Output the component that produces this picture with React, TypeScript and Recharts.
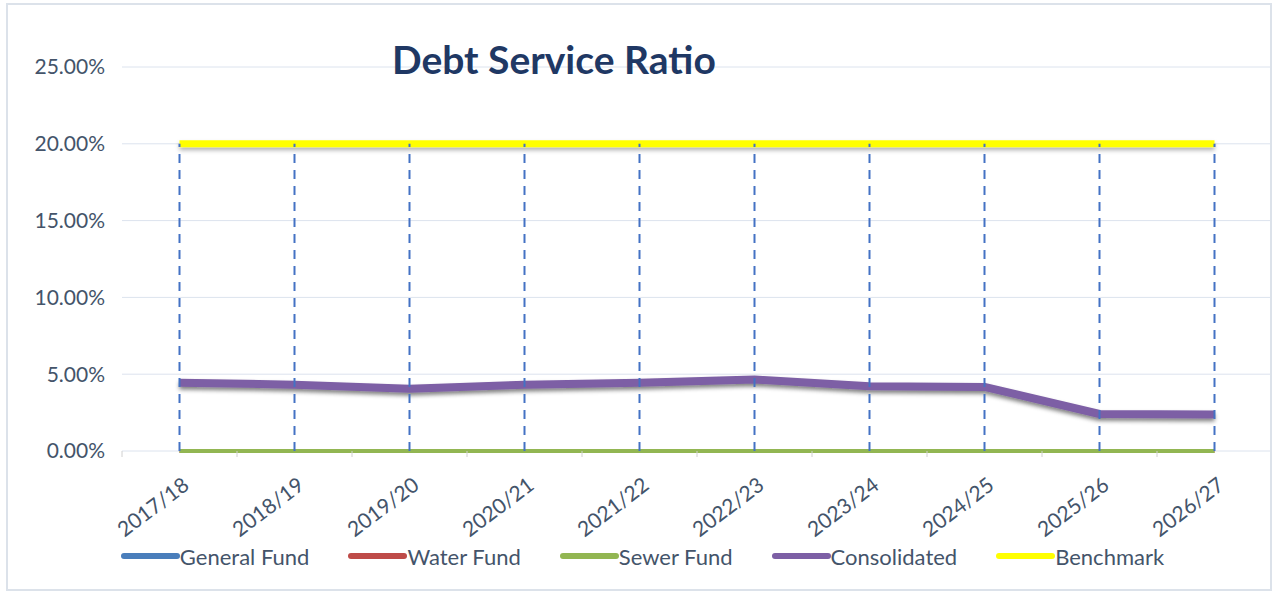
import React from 'react';
import { LineChart, Line, XAxis, YAxis, CartesianGrid, ReferenceLine, Legend } from 'recharts';

const categories = ['2017/18', '2018/19', '2019/20', '2020/21', '2021/22', '2022/23', '2023/24', '2024/25', '2025/26', '2026/27'];
const generalFund = [4.45, 4.32, 4.06, 4.32, 4.45, 4.65, 4.21, 4.17, 2.41, 2.37];
const waterFund = [0, 0, 0, 0, 0, 0, 0, 0, 0, 0];
const sewerFund = [0, 0, 0, 0, 0, 0, 0, 0, 0, 0];
const consolidated = [4.45, 4.32, 4.06, 4.32, 4.45, 4.65, 4.21, 4.17, 2.41, 2.37];
const benchmark = [20, 20, 20, 20, 20, 20, 20, 20, 20, 20];
const yTicks = [0, 5, 10, 15, 20, 25];

const seriesInfo = [
  { key: 'general', name: 'General Fund', color: '#4A7EBB', width: 6, shadow: true },
  { key: 'water', name: 'Water Fund', color: '#BE4B48', width: 4, shadow: false },
  { key: 'sewer', name: 'Sewer Fund', color: '#92B652', width: 4, shadow: false },
  { key: 'consolidated', name: 'Consolidated', color: '#7D5FA5', width: 8, shadow: true },
  { key: 'benchmark', name: 'Benchmark', color: '#FFFF00', width: 7, shadow: true },
];

const data = categories.map((c, i) => ({
  pos: i + 0.5,
  name: c,
  general: generalFund[i],
  water: waterFund[i],
  sewer: sewerFund[i],
  consolidated: consolidated[i],
  benchmark: benchmark[i],
}));

const xTicks: number[] = [];
for (let i = 0; i <= categories.length; i++) {
  xTicks.push(i);
  if (i < categories.length) xTicks.push(i + 0.5);
}

const FONT = 'Lato, "Open Sans", sans-serif';
const TEXT = '#44546A';

const XTick = (props: any) => {
  const { x, y, payload } = props;
  const v = payload.value;
  if (Number.isInteger(v)) {
    return <line x1={x} x2={x} y1={y} y2={y + 6} stroke="#D0D0D0" strokeWidth={1} />;
  }
  const label = categories[Math.floor(v)];
  const tx = x + 11;
  const ty = y + 37;
  return (
    <text x={tx} y={ty} transform={`rotate(-37, ${tx}, ${ty})`} textAnchor="end" fill={TEXT} fontSize={21} fontFamily={FONT}>
      {label}
    </text>
  );
};

const LegendContent = () => (
  <div style={{ display: 'flex', justifyContent: 'center', alignItems: 'center', height: 30, paddingLeft: 12, fontFamily: FONT, fontSize: 22, color: TEXT }}>
    {seriesInfo.map((s, i) => (
      <div key={s.key} style={{ display: 'flex', alignItems: 'center', marginRight: i < seriesInfo.length - 1 ? 38 : 0 }}>
        <svg width={60} height={10} style={{ display: 'block' }}>
          <line x1={4} x2={57} y1={5} y2={5} stroke={s.color} strokeWidth={6} strokeLinecap="round" />
        </svg>
        <span>{s.name}</span>
      </div>
    ))}
  </div>
);

export default function App() {
  return (
    <div style={{ position: 'absolute', left: 0, top: 0, width: 1272, height: 593, background: '#fff', overflow: 'hidden' }}>
      <svg width={0} height={0} style={{ position: 'absolute' }}>
        <defs>
          <filter id="lineShadow" filterUnits="userSpaceOnUse" x={0} y={0} width={1272} height={593}>
            <feDropShadow dx={0} dy={3} stdDeviation={2} floodColor="#000" floodOpacity={0.3} />
          </filter>
        </defs>
      </svg>
      <style>{`.shadowed path { filter: url(#lineShadow); }`}</style>
      <LineChart width={1272} height={593} data={data} margin={{ top: 67, right: 0, left: 10, bottom: 0 }}>
        <CartesianGrid vertical={false} stroke="#DCE3EE" strokeWidth={1} />
        <XAxis
          dataKey="pos"
          type="number"
          domain={[0, categories.length]}
          ticks={xTicks}
          interval={0}
          tick={<XTick />}
          tickLine={false}
          tickSize={0}
          tickMargin={0}
          axisLine={false}
          height={112}
        />
        <YAxis
          domain={[0, 25]}
          ticks={yTicks}
          interval={0}
          width={112}
          tickLine={false}
          axisLine={false}
          tickMargin={11}
          tickFormatter={(v: number) => `${v.toFixed(2)}%`}
          tick={{ fill: TEXT, fontSize: 21, fontFamily: FONT }}
        />
        <Legend verticalAlign="bottom" content={<LegendContent />} wrapperStyle={{ left: 0, width: 1272, bottom: 22 }} />
        {seriesInfo.map((s) => (
          <Line
            key={s.key}
            className={s.shadow ? 'shadowed' : undefined}
            dataKey={s.key}
            name={s.name}
            stroke={s.color}
            strokeWidth={s.width}
            dot={false}
            activeDot={false}
            strokeLinejoin="round"
            isAnimationActive={false}
          />
        ))}
        {data.map((d, i) => (
          <ReferenceLine
            key={d.name}
            segment={[{ x: d.pos, y: 0 }, { x: d.pos, y: benchmark[i] }]}
            stroke="#4472C4"
            strokeWidth={2}
            strokeDasharray="9 7"
          />
        ))}
      </LineChart>
      <div style={{ position: 'absolute', left: 392, top: 36, fontFamily: FONT, fontWeight: 700, fontSize: 39, color: '#1F3864', whiteSpace: 'nowrap' }}>
        Debt Service Ratio
      </div>
      <div style={{ position: 'absolute', left: 6, top: 3, width: 1262, height: 584, border: '2px solid #DCE2EA', pointerEvents: 'none' }} />
    </div>
  );
}
